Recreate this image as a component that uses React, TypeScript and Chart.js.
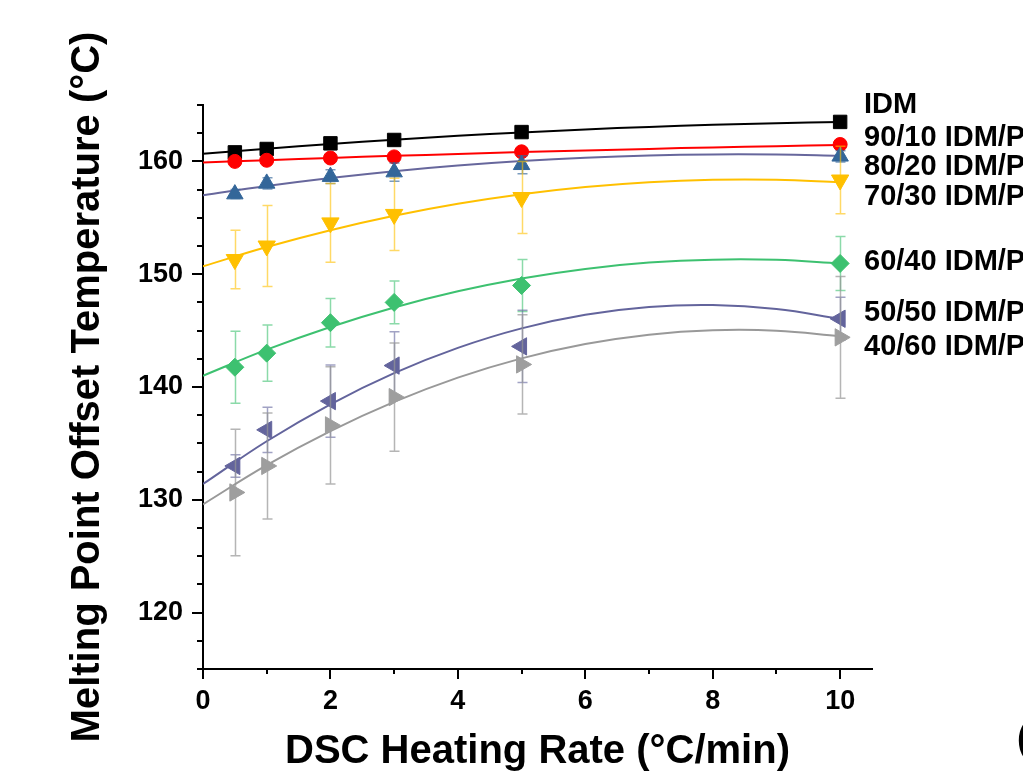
import React, { useEffect, useRef } from "react";
import { Chart, registerables } from "chart.js";

Chart.register(...registerables);

// ---------- data ----------
const heatingRates = [0.5, 1, 2, 3, 5, 10];
const fitRates = [0, 1, 2, 3, 4, 5, 6, 7, 8, 9, 10];

const seriesLabels = [
  "IDM",
  "90/10 IDM/P",
  "80/20 IDM/P",
  "70/30 IDM/P",
  "60/40 IDM/P",
  "50/50 IDM/P",
  "40/60 IDM/P",
];

const idmTemps = [160.8, 161.1, 161.6, 161.9, 162.6, 163.5];
const idmErrors = [0.2, 0.2, 0.2, 0.2, 0.2, 0.2];
const idmFit = [160.67, 161.13, 161.55, 161.93, 162.27, 162.57, 162.83, 163.06, 163.24, 163.39, 163.49];

const r9010Temps = [160.0, 160.1, 160.3, 160.4, 160.85, 161.5];
const r9010Errors = [0.3, 0.3, 0.3, 0.3, 0.3, 0.3];
const r9010Fit = [159.9, 160.11, 160.31, 160.49, 160.66, 160.83, 160.97, 161.11, 161.24, 161.35, 161.45];

const r8020Temps = [157.1, 158.05, 158.65, 159.05, 159.7, 160.45];
const r8020Errors = [0.4, 0.5, 0.6, 0.8, 0.8, 0.5];
const r8020Fit = [157.0, 157.81, 158.52, 159.13, 159.63, 160.03, 160.33, 160.53, 160.62, 160.61, 160.5];

const r7030Temps = [151.3, 152.5, 154.55, 155.3, 156.8, 158.35];
const r7030Errors = [2.6, 3.6, 3.5, 3.2, 3.2, 3.0];
const r7030Fit = [150.7, 152.41, 153.9, 155.18, 156.24, 157.09, 157.73, 158.16, 158.37, 158.37, 158.15];

const r6040Temps = [141.75, 143.0, 145.7, 147.5, 149.0, 150.95];
const r6040Errors = [3.2, 2.5, 2.15, 1.9, 2.3, 2.4];
const r6040Fit = [141.0, 143.31, 145.32, 147.05, 148.48, 149.62, 150.47, 151.03, 151.29, 151.27, 150.95];

const r5050Temps = [133.0, 136.2, 138.75, 141.9, 143.6, 146.05];
const r5050Errors = [1.0, 2.0, 3.2, 3.0, 3.2, 1.9];
const r5050Fit = [131.4, 135.19, 138.47, 141.23, 143.47, 145.2, 146.4, 147.09, 147.26, 146.91, 146.05];

const r4060Temps = [130.65, 133.0, 136.6, 139.1, 142.0, 144.4];
const r4060Errors = [5.6, 4.7, 5.2, 4.8, 4.4, 5.4];
const r4060Fit = [129.6, 133.07, 136.09, 138.68, 140.83, 142.54, 143.81, 144.64, 145.03, 144.99, 144.5];

const xTickLabels = ["0", "2", "4", "6", "8", "10"];
const yTickLabels = ["120", "130", "140", "150", "160"];

const xAxisTitle = "DSC Heating Rate (°C/min)";
const yAxisTitle = "Melting Point Offset Temperature (°C)";

// ---------- styles / layout ----------
const FONT = 'Arial, "Liberation Sans", Helvetica, sans-serif';
const labelYs = [105, 138, 167, 197, 262, 313, 347];

const seriesStyles = [
  { marker: "rect", radius: 9.5, rotation: 0, color: "#000000", line: "#000000", err: "rgba(0,0,0,0.6)" },
  { marker: "circle", radius: 7, rotation: 0, color: "#FF0000", line: "#FF0000", err: "rgba(255,0,0,0.5)" },
  { marker: "triangle", radius: 9.5, rotation: 0, color: "#336699", line: "#67679C", err: "rgba(51,102,153,0.65)" },
  { marker: "triangle", radius: 10, rotation: 180, color: "#FFC000", line: "#FFC000", err: "rgba(255,192,0,0.6)" },
  { marker: "rectRot", radius: 9, rotation: 0, color: "#3DC170", line: "#3DC170", err: "rgba(61,193,112,0.6)" },
  { marker: "triangle", radius: 10, rotation: -90, color: "#63649C", line: "#63649C", err: "rgba(99,100,156,0.6)" },
  { marker: "triangle", radius: 10, rotation: 90, color: "#9E9E9E", line: "#999999", err: "rgba(150,150,150,0.7)" },
];

const seriesValues = [idmTemps, r9010Temps, r8020Temps, r7030Temps, r6040Temps, r5050Temps, r4060Temps];
const seriesErrors = [idmErrors, r9010Errors, r8020Errors, r7030Errors, r6040Errors, r5050Errors, r4060Errors];
const seriesFits = [idmFit, r9010Fit, r8020Fit, r7030Fit, r6040Fit, r5050Fit, r4060Fit];

const errorBarPlugin = {
  id: "errorBars",
  beforeDatasetDraw(chart: any, args: any) {
    const ds: any = chart.data.datasets[args.index];
    if (!ds.errorBars) return;
    const { ctx } = chart;
    const x = chart.scales.x;
    const y = chart.scales.y;
    ctx.save();
    ctx.strokeStyle = ds.errorColor;
    ctx.lineWidth = 1.5;
    ds.data.forEach((pt: any, i: number) => {
      const e = ds.errorBars[i];
      if (!e) return;
      const px = Math.round(x.getPixelForValue(pt.x)) + 0.5;
      const top = y.getPixelForValue(pt.y + e);
      const bot = y.getPixelForValue(pt.y - e);
      ctx.beginPath();
      ctx.moveTo(px, top);
      ctx.lineTo(px, bot);
      ctx.moveTo(px - 5, top);
      ctx.lineTo(px + 5, top);
      ctx.moveTo(px - 5, bot);
      ctx.lineTo(px + 5, bot);
      ctx.stroke();
    });
    ctx.restore();
  },
};

const tickMarkPlugin = {
  id: "tickMarks",
  afterDraw(chart: any) {
    const { ctx, chartArea } = chart;
    const x = chart.scales.x;
    const y = chart.scales.y;
    ctx.save();
    ctx.strokeStyle = "#000";
    ctx.lineWidth = 2;
    ctx.beginPath();
    x.ticks.forEach((t: any) => {
      const px = Math.round(x.getPixelForValue(t.value));
      const len = xTickLabels.includes(String(t.value)) ? 10 : 5;
      ctx.moveTo(px, chartArea.bottom);
      ctx.lineTo(px, chartArea.bottom + len);
    });
    y.ticks.forEach((t: any) => {
      const py = Math.round(y.getPixelForValue(t.value));
      const len = yTickLabels.includes(String(t.value)) ? 11 : 6;
      ctx.moveTo(chartArea.left - len, py);
      ctx.lineTo(chartArea.left, py);
    });
    ctx.stroke();
    ctx.restore();
  },
};

const seriesLabelPlugin = {
  id: "seriesLabels",
  afterDraw(chart: any) {
    const { ctx } = chart;
    ctx.save();
    ctx.fillStyle = "#000";
    ctx.textAlign = "left";
    ctx.textBaseline = "middle";
    ctx.font = `bold 29px ${FONT}`;
    seriesLabels.forEach((label, i) => {
      ctx.fillText(label, 864, labelYs[i]);
    });
    ctx.font = `bold 36px ${FONT}`;
    ctx.fillText("(", 1017, 740);
    ctx.restore();
  },
};

export default function App() {
  const canvasRef = useRef<HTMLCanvasElement>(null);

  useEffect(() => {
    const datasets: any[] = [];
    seriesLabels.forEach((label, i) => {
      const st = seriesStyles[i];
      datasets.push({
        label: label + " fit",
        data: fitRates.map((r, k) => ({ x: r, y: seriesFits[i][k] })),
        showLine: true,
        borderColor: st.line,
        backgroundColor: st.line,
        borderWidth: 2,
        pointRadius: 0,
        pointHoverRadius: 0,
        tension: 0.4,
        order: 100 - 2 * i,
      });
      datasets.push({
        label,
        data: heatingRates.map((r, k) => ({ x: r, y: seriesValues[i][k] })),
        showLine: false,
        pointStyle: st.marker,
        pointRadius: st.radius,
        pointHoverRadius: st.radius,
        pointRotation: st.rotation,
        backgroundColor: st.color,
        borderColor: st.color,
        borderWidth: 1,
        order: 99 - 2 * i,
        errorBars: seriesErrors[i],
        errorColor: st.err,
      });
    });

    const tickFont = { family: FONT, size: 27, weight: "bold" as const };
    const titleFont = { family: FONT, size: 40, weight: "bold" as const, lineHeight: 1 };

    const chart = new Chart(canvasRef.current as HTMLCanvasElement, {
      type: "scatter",
      data: { datasets },
      options: {
        animation: false,
        responsive: false,
        devicePixelRatio: 1,
        layout: { padding: { top: 105, right: 151, left: 0, bottom: 0 } },
        plugins: {
          legend: { display: false },
          tooltip: { enabled: false },
        },
        scales: {
          x: {
            type: "linear",
            min: 0,
            max: 10.5,
            grid: { display: false, drawTicks: false },
            border: { display: true, color: "#000", width: 2 },
            ticks: {
              stepSize: 1,
              includeBounds: false,
              autoSkip: false,
              maxRotation: 0,
              padding: 16,
              color: "#000",
              font: tickFont,
              callback: (v: any) => (xTickLabels.includes(String(v)) ? String(v) : ""),
            },
            title: {
              display: true,
              text: xAxisTitle,
              color: "#000",
              font: titleFont,
              padding: { top: 0, bottom: 3 },
            },
            afterFit: (s: any) => {
              s.height = 106;
            },
          },
          y: {
            type: "linear",
            min: 115,
            max: 165,
            grid: { display: false, drawTicks: false },
            border: { display: true, color: "#000", width: 2 },
            ticks: {
              stepSize: 2.5,
              autoSkip: false,
              padding: 20,
              color: "#000",
              font: tickFont,
              callback: (v: any) => (yTickLabels.includes(String(v)) ? String(v) : ""),
            },
            title: {
              display: true,
              text: yAxisTitle,
              color: "#000",
              font: titleFont,
              padding: { top: 68, bottom: 0 },
            },
            afterFit: (s: any) => {
              s.width = 203;
            },
          },
        },
      },
      plugins: [errorBarPlugin, tickMarkPlugin, seriesLabelPlugin],
    } as any);

    return () => chart.destroy();
  }, []);

  return (
    <div style={{ position: "absolute", left: 0, top: 0, width: 1023, height: 775, background: "#fff", overflow: "hidden" }}>
      <canvas ref={canvasRef} width={1023} height={775} style={{ display: "block", width: 1023, height: 775 }} />
    </div>
  );
}
